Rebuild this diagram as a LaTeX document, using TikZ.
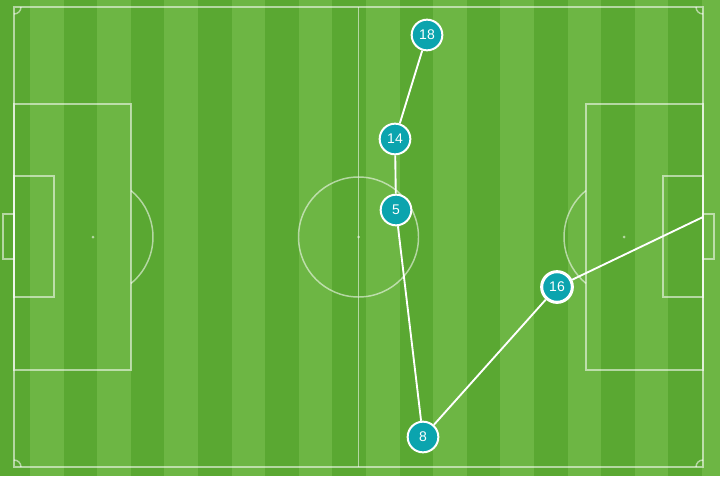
\documentclass[tikz,border=0pt]{standalone}
\usepackage{fontspec}
\setmainfont{Liberation Sans}
\usetikzlibrary{shapes}

\definecolor{grassdark}{HTML}{5AA832}
\definecolor{grasslight}{HTML}{6DB644}
\definecolor{shirt}{HTML}{0BA4AE}

\tikzset{
  pitchline/.style={draw=white,draw opacity=0.55,line width=1.1pt},
  player/.style={circle,draw=white,line width=1.5pt,fill=shirt,text=white,
    minimum size=23pt,inner sep=0pt,font=\fontsize{10.5pt}{11pt}\selectfont},
  pass/.style={draw=white,line width=1.4pt}
}

\begin{document}
\begin{tikzpicture}[x=0.75pt,y=0.75pt]
  \path[use as bounding box,clip] (0,0) rectangle (720,476);
  \fill[grassdark] (0,0) rectangle (720,476);
  \foreach \k in {1,3,...,21}
    \fill[grasslight] ({30+33.6*(\k-1)},0) rectangle ({30+33.6*\k},476);

  \draw[pitchline] (14,9) rectangle (703,469);
  \draw[pitchline] (358.5,9) -- (358.5,469);
  \draw[pitchline] (358.5,239) circle (60);
  \fill[white,opacity=0.55] (358.5,239) circle (1.5);

  \draw[pitchline] (14,106) rectangle (131,372);
  \draw[pitchline] (14,179) rectangle (54,300);
  \draw[pitchline] (14,217) rectangle (3,262);
  \fill[white,opacity=0.55] (93,239) circle (1.5);
  \draw[pitchline] (93,239) ++(-50.7:60) arc (-50.7:50.7:60);

  \draw[pitchline] (586,106) rectangle (703,372);
  \draw[pitchline] (663,179) rectangle (703,300);
  \draw[pitchline] (703,217) rectangle (714,262);
  \fill[white,opacity=0.55] (624,239) circle (1.5);
  \draw[pitchline] (624,239) ++(129.3:60) arc (129.3:230.7:60);

  \draw[pitchline] (21,469) arc (0:-90:7);
  \draw[pitchline] (696,469) arc (180:270:7);
  \draw[pitchline] (14,16) arc (90:0:7);
  \draw[pitchline] (696,9) arc (180:90:7);

  \node[player](P18) at (427,441) {18};
  \node[player](P14) at (395,337) {14};
  \node[player](P5) at (396,266) {5};
  \node[player](P8) at (423,39) {8};
  \node[player,line width=2.3pt](P16) at (557,189) {16};
  \coordinate (Aim) at (703,259);

  \draw[pass] (P18) -- (P14);
  \draw[pass] (P14) -- (P5);
  \draw[pass] (P5) -- (P8);
  \draw[pass] (P8) -- (P16);
  \draw[pass] (P16) -- (Aim);
\end{tikzpicture}
\end{document}
